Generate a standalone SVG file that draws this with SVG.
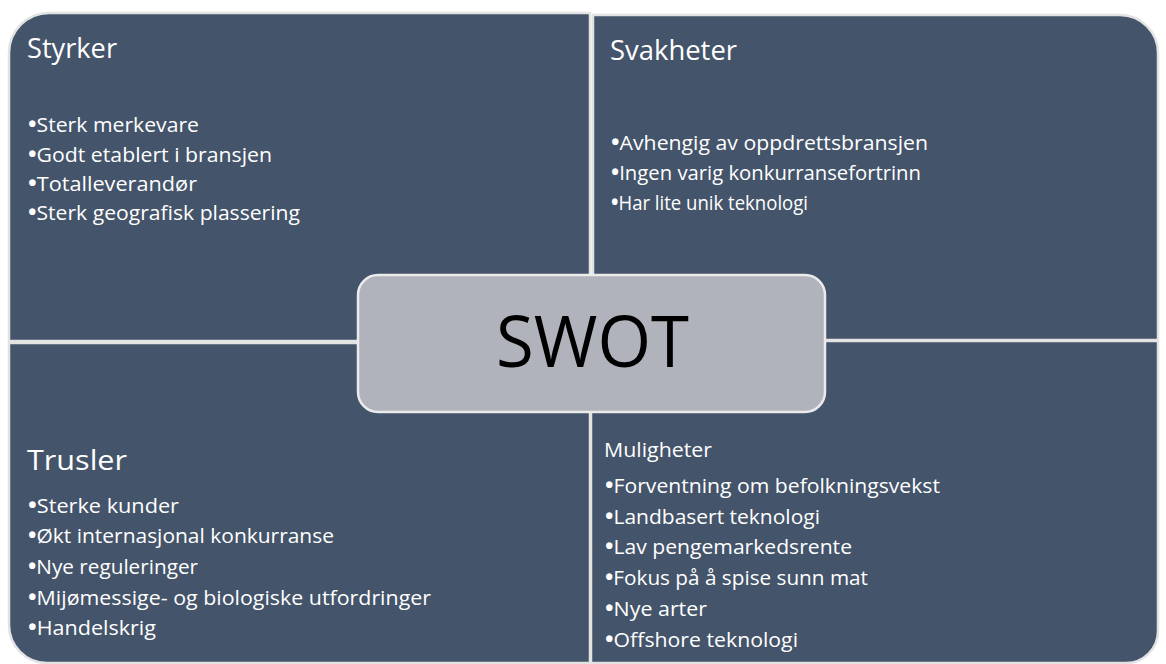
<svg xmlns="http://www.w3.org/2000/svg" width="1166" height="664" viewBox="0 0 1166 664">
<style>
.panel{fill:#44546A;stroke:#E3E3E3;stroke-width:2.5}
.title{font-family:"Open Sans","Liberation Sans",sans-serif;font-size:28px;fill:#FFFFFF}
.item{font-family:"Open Sans","Liberation Sans",sans-serif;font-size:20.5px;fill:#FFFFFF}
.item .b{font-weight:700;font-size:22px}
.sub{font-family:"Open Sans","Liberation Sans",sans-serif;font-size:20px;fill:#FFFFFF}
.center{fill:#B0B3BB;stroke:#EBEBEB;stroke-width:2.5}
.swot{font-family:"Open Sans","Liberation Sans",sans-serif;font-size:72px;fill:#000000}
</style>
<rect x="0" y="0" width="1166" height="664" fill="#FFFFFF"/>
<g id="styrker">
<path class="panel" d="M9,341 V53 A40,40 0 0 1 49,13 H590 V341 Z"/>
<text class="title" x="27" y="58" textLength="90" lengthAdjust="spacingAndGlyphs">Styrker</text>
<text class="item" x="28" y="132" textLength="171" lengthAdjust="spacingAndGlyphs"><tspan class="b">•</tspan>Sterk merkevare</text>
<text class="item" x="28" y="162" textLength="244" lengthAdjust="spacingAndGlyphs"><tspan class="b">•</tspan>Godt etablert i bransjen</text>
<text class="item" x="28" y="191" textLength="169" lengthAdjust="spacingAndGlyphs"><tspan class="b">•</tspan>Totalleverandør</text>
<text class="item" x="28" y="220" textLength="272" lengthAdjust="spacingAndGlyphs"><tspan class="b">•</tspan>Sterk geografisk plassering</text>
</g>
<g id="svakheter">
<path class="panel" d="M593,15 H1120 A38,38 0 0 1 1158,53 V340 H593 Z"/>
<text class="title" x="610" y="60" textLength="127" lengthAdjust="spacingAndGlyphs">Svakheter</text>
<text class="item" x="611" y="150" textLength="317" lengthAdjust="spacingAndGlyphs"><tspan class="b">•</tspan>Avhengig av oppdrettsbransjen</text>
<text class="item" x="611" y="180" textLength="310" lengthAdjust="spacingAndGlyphs"><tspan class="b">•</tspan>Ingen varig konkurransefortrinn</text>
<text class="item" x="611" y="210" textLength="197" lengthAdjust="spacingAndGlyphs"><tspan class="b">•</tspan>Har lite unik teknologi</text>
</g>
<g id="trusler">
<path class="panel" d="M9,343 H590 V663 H47 A38,38 0 0 1 9,625 Z"/>
<text class="title" x="27" y="470" textLength="100" lengthAdjust="spacingAndGlyphs">Trusler</text>
<text class="item" x="28" y="513" textLength="151" lengthAdjust="spacingAndGlyphs"><tspan class="b">•</tspan>Sterke kunder</text>
<text class="item" x="28" y="543" textLength="306" lengthAdjust="spacingAndGlyphs"><tspan class="b">•</tspan>Økt internasjonal konkurranse</text>
<text class="item" x="28" y="574" textLength="170" lengthAdjust="spacingAndGlyphs"><tspan class="b">•</tspan>Nye reguleringer</text>
<text class="item" x="28" y="605" textLength="403" lengthAdjust="spacingAndGlyphs"><tspan class="b">•</tspan>Mijømessige- og biologiske utfordringer</text>
<text class="item" x="28" y="635" textLength="128" lengthAdjust="spacingAndGlyphs"><tspan class="b">•</tspan>Handelskrig</text>
</g>
<g id="muligheter">
<path class="panel" d="M591,341 H1158 V631 A32,32 0 0 1 1126,663 H591 Z"/>
<text class="sub" x="604" y="457" textLength="108" lengthAdjust="spacingAndGlyphs">Muligheter</text>
<text class="item" x="605" y="493" textLength="335" lengthAdjust="spacingAndGlyphs"><tspan class="b">•</tspan>Forventning om befolkningsvekst</text>
<text class="item" x="605" y="524" textLength="215" lengthAdjust="spacingAndGlyphs"><tspan class="b">•</tspan>Landbasert teknologi</text>
<text class="item" x="605" y="554" textLength="247" lengthAdjust="spacingAndGlyphs"><tspan class="b">•</tspan>Lav pengemarkedsrente</text>
<text class="item" x="605" y="585" textLength="263" lengthAdjust="spacingAndGlyphs"><tspan class="b">•</tspan>Fokus på å spise sunn mat</text>
<text class="item" x="605" y="616" textLength="102" lengthAdjust="spacingAndGlyphs"><tspan class="b">•</tspan>Nye arter</text>
<text class="item" x="605" y="647" textLength="193" lengthAdjust="spacingAndGlyphs"><tspan class="b">•</tspan>Offshore teknologi</text>
</g>
<g id="swot">
<rect class="center" x="358" y="275" width="467" height="137" rx="20" ry="20"/>
<text class="swot" x="496" y="367" textLength="193" lengthAdjust="spacingAndGlyphs">SWOT</text>
</g>
</svg>
